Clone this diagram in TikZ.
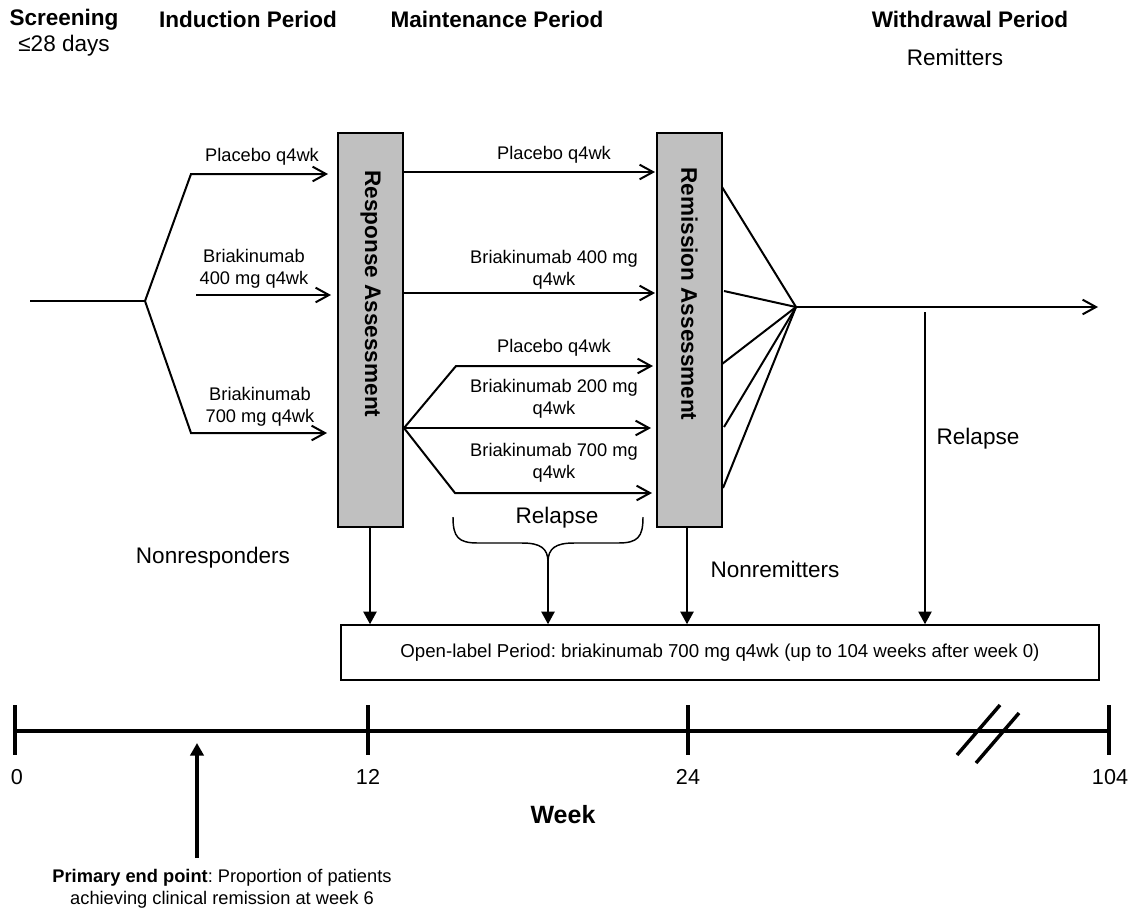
\documentclass[tikz,border=0pt]{standalone}
\usepackage{fontspec}
\setmainfont{Liberation Sans}
\usetikzlibrary{arrows.meta}
\definecolor{boxgray}{RGB}{192,192,192}
\frenchspacing
\begin{document}
\begin{tikzpicture}[x=0.75pt,y=-0.75pt,
  ln/.style={line width=1.5pt},
  thin/.style={line width=1.1pt},
  oarr/.style={ln,-{Straight Barb[length=10pt,width=11pt,line width=1.5pt]}},
  darr/.style={line width=1.3pt,-{Triangle[length=9.5pt,width=10pt]}},
  gbox/.style={draw,line width=1.2pt,fill=boxgray,inner sep=0pt,minimum width=48.75pt,minimum height=295.5pt},
  wbox/.style={draw,line width=1.2pt,fill=white,inner sep=0pt},
  small/.style={font=\fontsize{13.7}{16.5}\selectfont, align=center, inner sep=0pt},
  big/.style={font=\fontsize{16.9}{20}\selectfont, inner sep=0pt},
  bigb/.style={font=\fontsize{16.9}{20}\selectfont\bfseries, inner sep=0pt},
  tl/.style={line width=2.6pt},
  tick/.style={font=\fontsize{16.2}{18}\selectfont, inner sep=0pt},
]
\useasboundingbox (0,0) rectangle (1134,911);

% headers
\node[bigb] (scr) at (64,20) {Screening};
\node[big] (days) at (64,46) {≤28 days};
\node[bigb] (ind) at (248,19) {Induction Period};
\node[bigb] (mnt) at (497,19) {Maintenance Period};
\node[bigb] (wd) at (970,19) {Withdrawal Period};
\node[big] (rmt) at (955,57) {Remitters};

% assessment boxes
\node[gbox] (resp) at (370.5,330) {};
\node[gbox] (remb) at (689.5,330) {};
\node[bigb,rotate=-90] (respt) at (370.5,294) {Response Assessment};
\node[bigb,rotate=-90] (rembt) at (689.5,294) {Remission Assessment};

% open-label box
\node[wbox,minimum width=568.5pt,minimum height=41.25pt] (olp) at (720,652.5)
  {\fontsize{14}{16}\selectfont Open-label Period: briakinumab 700 mg q4wk (up to 104 weeks after week 0)};

% induction
\coordinate (s0) at (30,301);
\coordinate (j1) at (145,301);
\coordinate (c1) at (191,174);
\coordinate (c3) at (191,433);
\coordinate (e1) at (328,174);
\coordinate (m2) at (196,295);
\coordinate (e2) at (331,295);
\coordinate (e3) at (327,433);
\draw[ln] (s0) -- (j1);
\draw[oarr] (j1) -- (c1) -- (e1);
\draw[oarr] (m2) -- (e2);
\draw[oarr] (j1) -- (c3) -- (e3);
\node[small] (l1) at (262,157) {Placebo q4wk};
\node[small] (l2) at (254,269) {Briakinumab\\400 mg q4wk};
\node[small] (l3) at (260,407) {Briakinumab\\700 mg q4wk};

% maintenance
\coordinate (f1) at (655,172);
\coordinate (f2) at (655,293);
\draw[oarr] (resp.east |- f1) -- (f1);
\draw[oarr] (resp.east |- f2) -- (f2);
\coordinate (j2) at (404,428);
\coordinate (k1) at (456,366);
\coordinate (k3) at (455,493);
\coordinate (g1) at (653,366);
\coordinate (g2) at (651,428);
\coordinate (g3) at (652,493);
\draw[oarr] (j2) -- (k1) -- (g1);
\draw[oarr] (j2) -- (g2);
\draw[oarr] (j2) -- (k3) -- (g3);
\node[small] (n1) at (554,155) {Placebo q4wk};
\node[small] (n2) at (554,270) {Briakinumab 400 mg\\q4wk};
\node[small] (n3) at (554,348) {Placebo q4wk};
\node[small] (n4) at (554,399) {Briakinumab 200 mg\\q4wk};
\node[small] (n5) at (554,463) {Briakinumab 700 mg\\q4wk};

% remission fan
\coordinate (cv) at (796,307);
\coordinate (r1) at (722,187);
\coordinate (r2) at (724,291);
\coordinate (r3) at (722,364);
\coordinate (r4) at (724,427);
\coordinate (r5) at (723,488);
\foreach \r in {r1,r2,r3,r4,r5} \draw[ln] (\r) -- (cv);
\coordinate (out) at (1098,307);
\draw[oarr] (cv) -- (out);

% relapse from withdrawal
\coordinate (rl) at (925,312);
\draw[darr,line width=1.1pt] (rl) -- (rl |- olp.north);
\node[big] (rlt) at (978,439) {Relapse};

% brace relapse
\coordinate (bl) at (453,517);
\coordinate (br) at (643,517);
\coordinate (bt) at (548,562);
\draw[thin] (bl) .. controls (453,537) and (458,543) .. (478,543) -- (522,543)
  .. controls (540,543) and (548,548) .. (bt);
\draw[thin] (br) .. controls (643,537) and (638,543) .. (618,543) -- (574,543)
  .. controls (556,543) and (548,548) .. (bt);
\draw[darr] (bt) -- (bt |- olp.north);
\node[big] (rbt) at (557,518) {Relapse};

% down arrows from boxes
\coordinate (ld) at (370,527);
\draw[darr] (ld) -- (ld |- olp.north);
\coordinate (rd) at (687,527);
\draw[darr] (rd) -- (rd |- olp.north);
\node[big] (nresp) at (213,558) {Nonresponders};
\node[big] (nrem) at (775,569) {Nonremitters};

% timeline
\coordinate (t0) at (15,731);
\coordinate (t12) at (368,731);
\coordinate (t24) at (688,731);
\coordinate (t104) at (1109,731);
\draw[tl] (t0) -- (t104);
\foreach \t in {t0,t12,t24,t104} \draw[tl] ([yshift=19.5pt]\t) -- ([yshift=-18pt]\t);
\draw[tl] (957,755) -- (1000,705);
\draw[tl] (976,763) -- (1019,713);
\node[tick] (w0) at (17,777) {0};
\node[tick] (w12) at (368,777) {12};
\node[tick] (w24) at (688,777) {24};
\node[tick] (w104) at (1110,777) {104};
\node[font=\fontsize{18.75}{22}\selectfont\bfseries, inner sep=0pt] (wk) at (563,815) {Week};

% primary end point
\node[small] (pep) at (222,889) {\textbf{Primary end point}: Proportion of patients\\achieving clinical remission at week 6};
\coordinate (pa) at (197,743);
\coordinate (pb) at (197,858);
\draw[darr,line width=2.4pt] (pb) -- (pa);
\end{tikzpicture}
\end{document}
